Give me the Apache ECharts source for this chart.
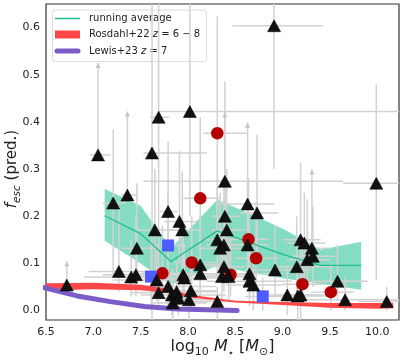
<!DOCTYPE html>
<html lang="en">
<head>
<meta charset="UTF-8">
<title>f_esc vs stellar mass</title>
<script src="https://cdn.jsdelivr.net/npm/echarts@6/dist/echarts.min.js"></script>
<style>
    html, body { margin: 0; padding: 0; background: #fff; }
    #main { width: 404px; height: 361px; }
</style>
</head>
<body>
<div id="main"></div>
<script type="text/javascript">
    // each row: [logM, fesc, xlo, xhi, ylo, yhi, lowerLimit]
    var triangles = [
        [6.72, 0.054, 6.60, 6.85, 0.054, 0.104, 1],
        [7.05, 0.330, 6.96, 7.18, 0.330, 0.525, 1],
        [7.21, 0.228, 7.10, 7.35, 0.070, 0.384, 0],
        [7.36, 0.245, 7.29, 7.47, 0.245, 0.422, 1],
        [7.27, 0.083, 6.95, 7.60, 0.040, 0.220, 0],
        [7.40, 0.071, 6.90, 7.70, 0.030, 0.150, 0],
        [7.45, 0.076, 7.10, 7.90, 0.030, 0.200, 0],
        [7.46, 0.132, 7.30, 7.65, 0.060, 0.270, 0],
        [7.62, 0.334, 7.53, 8.20, -0.02, 0.660, 0],
        [7.69, 0.410, 7.60, 7.80, 0.100, 0.660, 0],
        [7.65, 0.171, 7.45, 7.85, 0.080, 0.300, 0],
        [7.67, 0.065, 7.20, 8.00, 0.020, 0.140, 0],
        [7.69, 0.038, 7.40, 8.10, 0.010, 0.100, 0],
        [7.79, 0.210, 7.70, 7.89, 0.120, 0.359, 0],
        [7.79, 0.051, 7.30, 8.30, 0.000, 0.120, 0],
        [7.83, 0.033, 7.50, 8.40, -0.01, 0.090, 0],
        [7.84, 0.016, 7.60, 8.20, -0.02, 0.060, 0],
        [7.88, 0.040, 7.60, 8.30, 0.000, 0.100, 0],
        [7.90, 0.026, 7.70, 8.10, -0.01, 0.070, 0],
        [7.91, 0.189, 7.75, 8.10, 0.100, 0.338, 0],
        [7.94, 0.171, 7.80, 8.15, 0.090, 0.295, 0],
        [7.95, 0.076, 7.70, 8.20, 0.030, 0.160, 0],
        [7.96, 0.069, 7.65, 8.35, 0.020, 0.140, 0],
        [8.01, 0.023, 7.80, 8.25, -0.02, 0.060, 0],
        [8.03, 0.042, 7.85, 8.30, 0.000, 0.100, 0],
        [8.02, 0.422, 7.68, 10.3, 0.200, 0.660, 0],
        [8.13, 0.097, 7.95, 8.35, 0.040, 0.200, 0],
        [8.13, 0.078, 7.90, 8.40, 0.030, 0.170, 0],
        [8.31, 0.019, 8.00, 8.60, -0.02, 0.050, 0],
        [8.31, 0.150, 8.15, 8.50, 0.070, 0.260, 0],
        [8.34, 0.132, 8.10, 8.55, 0.060, 0.250, 0],
        [8.38, 0.139, 8.20, 8.60, 0.070, 0.280, 0],
        [8.36, 0.072, 8.10, 8.70, 0.020, 0.160, 0],
        [8.38, 0.093, 8.20, 8.60, 0.040, 0.200, 0],
        [8.43, 0.072, 8.20, 8.70, 0.020, 0.150, 0],
        [8.39, 0.274, 7.53, 9.64, 0.100, 0.486, 0],
        [8.39, 0.200, 8.25, 8.55, 0.200, 0.420, 1],
        [8.41, 0.171, 8.25, 8.60, 0.090, 0.300, 0],
        [8.63, 0.226, 8.31, 8.91, 0.226, 0.398, 1],
        [8.63, 0.139, 8.45, 8.85, 0.060, 0.270, 0],
        [8.73, 0.207, 8.55, 8.95, 0.100, 0.373, 0],
        [8.65, 0.078, 8.30, 9.00, 0.020, 0.180, 0],
        [8.65, 0.062, 8.20, 9.10, 0.010, 0.150, 0],
        [8.69, 0.054, 8.40, 9.00, 0.000, 0.130, 0],
        [8.91, 0.604, 8.47, 9.43, 0.300, 0.660, 0],
        [8.92, 0.086, 8.60, 9.30, 0.030, 0.180, 0],
        [9.05, 0.033, 8.80, 9.40, -0.01, 0.090, 0],
        [9.15, 0.093, 8.90, 9.50, 0.030, 0.200, 0],
        [9.16, 0.031, 8.90, 9.50, -0.02, 0.090, 0],
        [9.19, 0.033, 9.00, 9.45, -0.02, 0.100, 0],
        [9.19, 0.150, 9.00, 9.40, 0.070, 0.314, 0],
        [9.23, 0.143, 9.05, 9.45, 0.070, 0.250, 0],
        [9.26, 0.108, 9.05, 9.50, 0.050, 0.235, 0],
        [9.31, 0.132, 9.15, 9.50, 0.132, 0.299, 1],
        [9.32, 0.115, 9.10, 9.60, 0.050, 0.220, 0],
        [9.58, 0.062, 9.30, 9.90, 0.020, 0.140, 0],
        [9.66, 0.023, 9.20, 10.3, 0.000, 0.070, 0],
        [9.99, 0.270, 9.64, 10.3, 0.065, 0.479, 0],
        [10.1, 0.019, 9.80, 10.3, 0.000, 0.050, 0]
    ];
    var circles = [
        [8.31, 0.376, 8.16, 8.62, 0.130, 0.624, 0],
        [8.13, 0.238, 7.95, 8.35, 0.100, 0.410, 0],
        [8.04, 0.102, 7.85, 8.30, 0.040, 0.200, 0],
        [7.73, 0.079, 7.50, 8.00, 0.030, 0.180, 0],
        [8.45, 0.076, 8.20, 8.70, 0.030, 0.170, 0],
        [8.64, 0.151, 8.45, 8.85, 0.070, 0.280, 0],
        [8.72, 0.111, 8.50, 8.95, 0.050, 0.230, 0],
        [9.21, 0.056, 9.00, 9.45, 0.010, 0.140, 0],
        [9.51, 0.039, 9.30, 9.75, 0.000, 0.100, 0]
    ];
    var squares = [
        [7.79, 0.138, 7.65, 7.95, 0.060, 0.250, 0],
        [7.61, 0.072, 7.40, 7.80, 0.020, 0.150, 0],
        [8.79, 0.030, 8.60, 9.00, 0.000, 0.070, 0]
    ];

    // running average and its spread
    var avgX  = [7.12, 7.50, 7.82, 8.31, 8.60, 9.02, 9.40, 9.83];
    var avgY  = [0.201, 0.163, 0.104, 0.169, 0.148, 0.118, 0.096, 0.096];
    var avgHi = [0.258, 0.222, 0.132, 0.235, 0.210, 0.172, 0.129, 0.146];
    var avgLo = [0.148, 0.100, 0.055, 0.095, 0.083, 0.068, 0.057, 0.044];

    // Rosdahl+22 band
    var rosX  = [6.40, 7.00, 7.50, 7.80, 8.00, 8.50, 9.00, 9.50, 10.0, 10.17];
    var rosHi = [0.058, 0.059, 0.055, 0.046, 0.034, 0.021, 0.018, 0.016, 0.016, 0.016];
    var rosLo = [0.042, 0.045, 0.043, 0.037, 0.028, 0.017, 0.012, 0.006, 0.004, 0.005];

    // Lewis+23
    var lewisX = [6.45, 6.83, 7.18, 7.54, 7.89, 8.20, 8.52];
    var lewisY = [0.050, 0.031, 0.019, 0.0085, 0.0035, 0.0015, 0.0];

    var FONT = 'DejaVu Sans';
    var GREEN = '#1fbf8f', RED = '#ff4747', PURPLE = '#7c5cc6', GREY = '#d2d2d2';

    function pairs(xs, ys) {
        return xs.map(function (x, i) { return [x, ys[i]]; });
    }

    function band(xs, hi, lo, fill, z) {
        return {
            type: 'custom', z: z, silent: true, clip: true,
            data: [[xs[1], hi[1]]],
            renderItem: function (params, api) {
                var pts = [];
                for (var i = 0; i < xs.length; i++) pts.push(api.coord([xs[i], hi[i]]));
                for (var j = xs.length - 1; j >= 0; j--) pts.push(api.coord([xs[j], lo[j]]));
                return {type: 'polygon', shape: {points: pts}, style: {fill: fill}};
            }
        };
    }

    function errorBars(rows) {
        return {
            type: 'custom', z: 3, silent: true, clip: true,
            data: rows,
            encode: {x: 0, y: 1},
            renderItem: function (params, api) {
                var x = api.value(0), y = api.value(1);
                var h0 = api.coord([api.value(2), y]), h1 = api.coord([api.value(3), y]);
                var v0 = api.coord([x, api.value(4)]), v1 = api.coord([x, api.value(5)]);
                var st = {stroke: GREY, lineWidth: 1.5};
                var kids = [
                    {type: 'line', shape: {x1: h0[0], y1: h0[1], x2: h1[0], y2: h1[1]}, style: st},
                    {type: 'line', shape: {x1: v0[0], y1: v0[1], x2: v1[0], y2: v1[1]}, style: st}
                ];
                if (api.value(6)) {
                    kids.push({
                        type: 'polygon',
                        shape: {points: [[v1[0] - 2.5, v1[1] + 5], [v1[0], v1[1]], [v1[0] + 2.5, v1[1] + 5]]},
                        style: {fill: '#c4c4c4'}
                    });
                }
                return {type: 'group', children: kids};
            }
        };
    }

    var myChart = echarts.init(document.getElementById('main'), null, {renderer: 'canvas'});

    var allRows = triangles.concat(circles, squares);

    myChart.setOption({
        animation: false,
        backgroundColor: '#fff',
        grid: {
            left: 46, right: 5, top: 4, bottom: 41,
            show: true, borderColor: '#333', borderWidth: 1.2,
            outerBoundsMode: 'none'
        },
        xAxis: {
            type: 'value', min: 6.5, max: 10.23, interval: 0.5,
            axisLine: {show: false}, axisTick: {show: false}, splitLine: {show: false},
            axisLabel: {
                color: '#222', fontFamily: FONT, fontSize: 11, margin: 7,
                showMaxLabel: false,
                formatter: function (v) { return v.toFixed(1); }
            },
            name: '{n|log}{s|10} {i|M}{t|⋆} {n|[}{i|M}{s|⊙}{n|]}',
            nameLocation: 'middle', nameGap: 16, nameMoveOverlap: false,
            nameTextStyle: {
                color: '#222', fontFamily: FONT, fontSize: 16, lineHeight: 22,
                rich: {
                    n: {fontFamily: FONT, fontSize: 16, lineHeight: 22, color: '#222'},
                    i: {fontFamily: FONT, fontSize: 16, lineHeight: 22, fontStyle: 'italic', color: '#222'},
                    s: {fontFamily: FONT, fontSize: 11, lineHeight: 13, verticalAlign: 'bottom', color: '#222'},
                    t: {fontFamily: FONT, fontSize: 10, lineHeight: 12, verticalAlign: 'bottom', color: '#222'}
                }
            }
        },
        yAxis: {
            type: 'value', min: -0.02, max: 0.65, minInterval: 0.1, maxInterval: 0.1,
            axisLine: {show: false}, axisTick: {show: false}, splitLine: {show: false},
            axisLabel: {
                color: '#222', fontFamily: FONT, fontSize: 11, margin: 6,
                formatter: function (v) {
                    var k = Math.round(v * 10);
                    return Math.abs(v * 10 - k) < 1e-6 && k >= 0 ? (k / 10).toFixed(1) : '';
                }
            },
            name: '{i|f}{s|esc} (pred.)',
            nameLocation: 'middle', nameGap: 23, nameRotate: 90, nameMoveOverlap: false,
            nameTextStyle: {
                color: '#222', fontFamily: FONT, fontSize: 15, lineHeight: 21,
                padding: [0, 14, 0, 0],
                rich: {
                    i: {fontFamily: FONT, fontSize: 15, lineHeight: 21, fontStyle: 'italic', color: '#222'},
                    s: {fontFamily: FONT, fontSize: 10.5, lineHeight: 12, fontStyle: 'italic', verticalAlign: 'bottom', color: '#222'}
                }
            }
        },
        series: [
            band(avgX, avgHi, avgLo, 'rgba(31,191,143,0.55)', 1),
            errorBars(allRows),
            {
                type: 'line', z: 4, silent: true, showSymbol: false,
                data: pairs(avgX, avgY),
                lineStyle: {color: GREEN, width: 1.3}
            },
            band(rosX, rosHi, rosLo, RED, 5),
            {
                type: 'line', z: 6, silent: true, showSymbol: false, clip: true,
                data: pairs(lewisX, lewisY),
                lineStyle: {color: PURPLE, width: 5, cap: 'round', join: 'round'}
            },
            {
                type: 'scatter', z: 7, silent: true,
                symbol: 'circle', symbolSize: 12.5,
                data: circles.map(function (r) { return [r[0], r[1]]; }),
                itemStyle: {color: '#b40000', opacity: 1}
            },
            {
                type: 'scatter', z: 8, silent: true,
                symbol: 'rect', symbolSize: 12,
                data: squares.map(function (r) { return [r[0], r[1]]; }),
                itemStyle: {color: '#4d5cff', opacity: 1}
            },
            {
                type: 'scatter', z: 9, silent: true,
                symbol: 'triangle', symbolSize: [13, 12],
                data: triangles.map(function (r) { return [r[0], r[1]]; }),
                itemStyle: {color: '#111', borderColor: '#000', borderWidth: 0.5, opacity: 1}
            }
        ],
        graphic: [{
            type: 'group', z: 100,
            children: [
                {type: 'rect', shape: {x: 52.5, y: 10, width: 154, height: 51.5, r: 3},
                    style: {fill: 'rgba(255,255,255,0.85)', stroke: '#dcdcdc', lineWidth: 1}},
                {type: 'line', shape: {x1: 55, y1: 18.5, x2: 80, y2: 18.5},
                    style: {stroke: GREEN, lineWidth: 1.5}},
                {type: 'rect', shape: {x: 55, y: 30.5, width: 25, height: 8},
                    style: {fill: RED}},
                {type: 'line', shape: {x1: 57, y1: 51, x2: 78, y2: 51},
                    style: {stroke: PURPLE, lineWidth: 5, lineCap: 'round'}},
                {type: 'text', x: 89, y: 18.5,
                    style: {text: 'running average', font: '10px ' + FONT, fill: '#222', verticalAlign: 'middle'}},
                {type: 'text', x: 89, y: 34.5,
                    style: {
                        text: 'Rosdahl+22 {i|z} = 6 − 8', font: '10px ' + FONT, fill: '#222', verticalAlign: 'middle',
                        rich: {i: {fontFamily: FONT, fontSize: 10, fontStyle: 'italic', fill: '#222'}}
                    }},
                {type: 'text', x: 89, y: 51,
                    style: {
                        text: 'Lewis+23 {i|z} = 7', font: '10px ' + FONT, fill: '#222', verticalAlign: 'middle',
                        rich: {i: {fontFamily: FONT, fontSize: 10, fontStyle: 'italic', fill: '#222'}}
                    }}
            ]
        }]
    });
</script>
</body>
</html>
